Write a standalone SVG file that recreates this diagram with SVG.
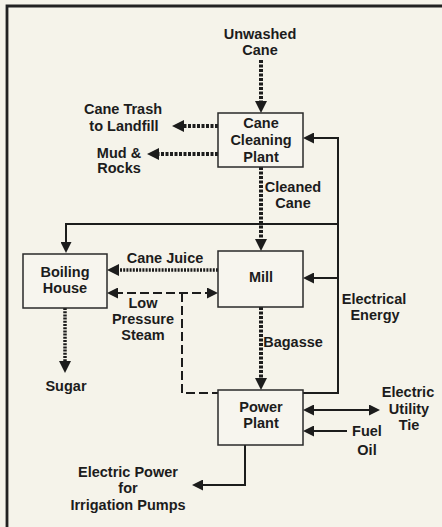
<svg xmlns="http://www.w3.org/2000/svg" width="442" height="527" viewBox="0 0 442 527">
<style>
.bg{fill:#f5f3ea}
.frame{stroke:#222;stroke-width:2.8;fill:none}
.box{fill:#f7f5ee;stroke:#2a2a2a;stroke-width:1.5}
text{font-family:"Liberation Sans",Arial,sans-serif;font-weight:bold;font-size:14.5px;fill:#1c1c1c;text-anchor:middle}
.solid{fill:none;stroke:#1c1c1c;stroke-width:2}
.dot{fill:none;stroke:#1c1c1c;stroke-width:4;stroke-dasharray:3 1.5}
.hatch{fill:none;stroke:#1c1c1c;stroke-width:3.5;stroke-dasharray:2 1.2}
.dash{fill:none;stroke:#1c1c1c;stroke-width:2;stroke-dasharray:9 4}
</style>
<defs>
<marker id="ab" markerUnits="userSpaceOnUse" markerWidth="12" markerHeight="12" refX="4" refY="6" orient="auto-start-reverse"><path d="M0,0 L12,6 L0,12 z" fill="#1c1c1c"/></marker>
<marker id="as" markerUnits="userSpaceOnUse" markerWidth="11" markerHeight="11" refX="4" refY="5.5" orient="auto-start-reverse"><path d="M0,0 L11,5.5 L0,11 z" fill="#1c1c1c"/></marker>
</defs>
<rect class="bg" x="0" y="0" width="442" height="527"/>
<path class="frame" d="M7,527 V6 H442"/>

<g id="connectors">
<path class="dot" d="M261,60 V105" marker-end="url(#ab)"/>
<path class="dot" d="M218,126 H180" marker-end="url(#ab)"/>
<path class="dot" d="M218,154 H155" marker-end="url(#ab)"/>
<path class="dot" d="M261,167 V243" marker-end="url(#ab)"/>
<path class="solid" d="M303,393 H338 V138 H310" marker-end="url(#as)"/>
<path class="solid" d="M338,224 H66 V246" marker-end="url(#as)"/>
<path class="solid" d="M338,278 H310" marker-end="url(#as)"/>
<path class="hatch" d="M218,270 H115" marker-end="url(#ab)"/>
<path class="dash" d="M114,293 H211" marker-start="url(#as)" marker-end="url(#as)"/>
<path class="dash" d="M182,293 V393 H218"/>
<path class="dot" d="M261,307 V382" marker-end="url(#ab)"/>
<path class="hatch" d="M65,308 V365" marker-end="url(#ab)"/>
<path class="solid" d="M310,410 H373" marker-start="url(#as)" marker-end="url(#as)"/>
<path class="solid" d="M347,431 H310" marker-end="url(#as)"/>
<path class="solid" d="M245,445 V485 H199" marker-end="url(#as)"/>
</g>

<g id="cleaning">
<rect class="box" x="218" y="113" width="85" height="54"/>
<text x="261" y="128">Cane</text>
<text x="261" y="145">Cleaning</text>
<text x="261" y="162">Plant</text>
</g>
<g id="mill">
<rect class="box" x="218" y="251" width="85" height="56"/>
<text x="261" y="282">Mill</text>
</g>
<g id="boiling">
<rect class="box" x="23" y="254" width="84" height="54"/>
<text x="65" y="277">Boiling</text>
<text x="65" y="293">House</text>
</g>
<g id="power">
<rect class="box" x="218" y="390" width="85" height="55"/>
<text x="261" y="412">Power</text>
<text x="261" y="428">Plant</text>
</g>

<g id="labels">
<text x="260" y="39">Unwashed</text>
<text x="260" y="55">Cane</text>
<text x="123" y="114">Cane Trash</text>
<text x="124" y="131">to Landfill</text>
<text x="119" y="158">Mud &amp;</text>
<text x="119" y="173">Rocks</text>
<text x="293" y="192">Cleaned</text>
<text x="293" y="208">Cane</text>
<text x="165" y="263">Cane Juice</text>
<text x="143" y="308">Low</text>
<text x="143" y="324">Pressure</text>
<text x="143" y="340">Steam</text>
<text x="374" y="304">Electrical</text>
<text x="375" y="320">Energy</text>
<text x="293" y="347">Bagasse</text>
<text x="66" y="391">Sugar</text>
<text x="408" y="397">Electric</text>
<text x="409" y="414">Utility</text>
<text x="409" y="430">Tie</text>
<text x="367" y="436">Fuel</text>
<text x="367" y="455">Oil</text>
<text x="128" y="477">Electric Power</text>
<text x="128" y="493">for</text>
<text x="128" y="510">Irrigation Pumps</text>
</g>
</svg>
